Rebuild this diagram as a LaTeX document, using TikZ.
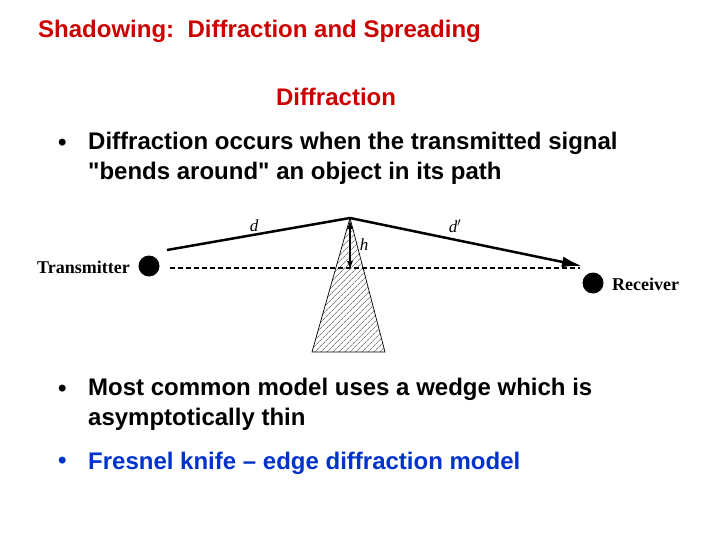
\documentclass[tikz,border=0pt]{standalone}
\usepackage{fontspec}
\setmainfont{Liberation Sans}
\newfontfamily\qf{Liberation Sans}[Ligatures=TeXOff]
\newfontfamily\serifm{Liberation Serif}
\usetikzlibrary{patterns.meta,arrows.meta}
\definecolor{ttl}{RGB}{204,0,0}
\definecolor{blu}{RGB}{0,51,204}
\newcommand{\sq}{{\qf\bfseries"}}
\tikzset{
 txt/.style={anchor=west,inner sep=0pt,font=\fontsize{24}{30}\selectfont\bfseries},
 lbl/.style={inner sep=0pt,font=\serifm\fontsize{18}{20}\selectfont\bfseries},
 ilbl/.style={inner sep=0pt,font=\serifm\itshape\fontsize{17}{20}\selectfont},
 dot/.style={circle,fill=black,minimum size=21pt,inner sep=0pt},
}
\begin{document}
\begin{tikzpicture}[x=1pt,y=-1pt]
\useasboundingbox[fill=white] (0,0) rectangle (720,540);
\node[txt,text=ttl] (t) at (38,31) {Shadowing:\ \ Diffraction and Spreading};
\node[txt,text=ttl,anchor=center] (s) at (336,97) {Diffraction};
\node[txt] (b1) at (58,145) {•};
\node[txt,align=left,anchor=north west] (b1t) at (88,132) {Diffraction occurs when the transmitted signal\\\sq bends around\sq{} an object in its path};
\node[txt] (b2) at (58,391) {•};
\node[txt,align=left,anchor=north west] (b2t) at (88,378) {Most common model uses a wedge which is\\asymptotically thin};
\node[txt,text=blu] (b3) at (58,463) {•};
\node[txt,text=blu] (b3t) at (88,463) {Fresnel knife – edge diffraction model};
% diagram
\node[dot] (tx) at (149,266) {};
\node[dot] (rx) at (593,283) {};
\node[lbl,anchor=east] (txl) at (130,267) {Transmitter};
\node[lbl,anchor=west] (rxl) at (612,284) {Receiver};
\coordinate (top) at (350,218);
\coordinate (s1) at (167,250);
\coordinate (e1) at (582,266);
\coordinate (bl) at (312,352);
\coordinate (br) at (385,352);
\coordinate (hb) at (350,270);
\fill[pattern={Lines[angle=45,distance=4pt,line width=0.6pt]},pattern color=black!75] (top) -- (br) -- (bl) -- cycle;
\draw[line width=0.7pt] (top) -- (br) -- (bl) -- cycle;
\draw[line width=1.4pt,dash pattern=on 5pt off 3pt] (170,268) -- (580,268);
\draw[line width=2.5pt] (s1) -- (top);
\draw[line width=2.5pt,-{Latex[length=20pt,width=11pt]}] (top) -- (e1);
\draw[line width=1.5pt,{Latex[length=9pt,width=6pt]}-{Latex[length=9pt,width=6pt]}] (350,220) -- (hb);
\node[ilbl] (d) at (254,226) {d};
\node[ilbl] (dp) at (455,226) {d$'$};
\node[ilbl] (h) at (364,245) {h};
\end{tikzpicture}
\end{document}
